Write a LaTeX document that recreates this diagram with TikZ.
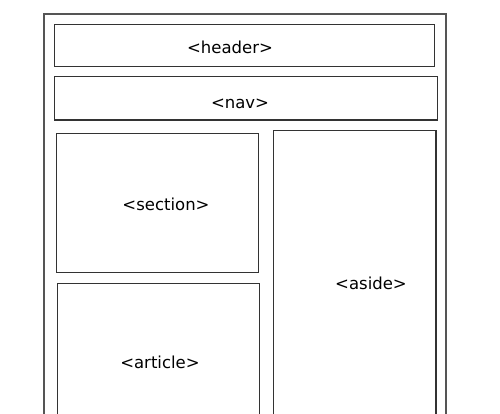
\documentclass[tikz,border=0pt]{standalone}
\usepackage{fontspec}
\setmainfont{DejaVu Sans}
\definecolor{outerc}{HTML}{555555}
\definecolor{innerc}{HTML}{333333}
\begin{document}
\begin{tikzpicture}[x=1pt,y=-1pt,
  box/.style={draw=innerc,line width=1.1pt},
  lbl/.style={font=\fontsize{16.5}{19}\selectfont,text=black,inner sep=0pt}]
\useasboundingbox (0,0) rectangle (500,413);
\clip (0,0) rectangle (500,413);
\fill[white] (0,0) rectangle (500,413);
\draw[draw=outerc,line width=2pt] (44,14) rectangle (446,430);
\draw[box] (54.3,24.3) rectangle (434.3,66.7);
\draw[box] (54.3,76.7) rectangle (437.3,120);
\draw[box] (56.3,133.3) rectangle (258.7,272.3);
\draw[box] (273.3,130.7) rectangle (436,430);
\draw[box] (57.3,283.3) rectangle (259.7,430);
\node[lbl] (header) at (230,47) {<header>};
\node[lbl] (nav) at (240,104) {<nav>};
\node[lbl] (section) at (166,204) {<section>};
\node[lbl] (aside) at (371,283) {<aside>};
\node[lbl] (article) at (160,362) {<article>};
\end{tikzpicture}
\end{document}
